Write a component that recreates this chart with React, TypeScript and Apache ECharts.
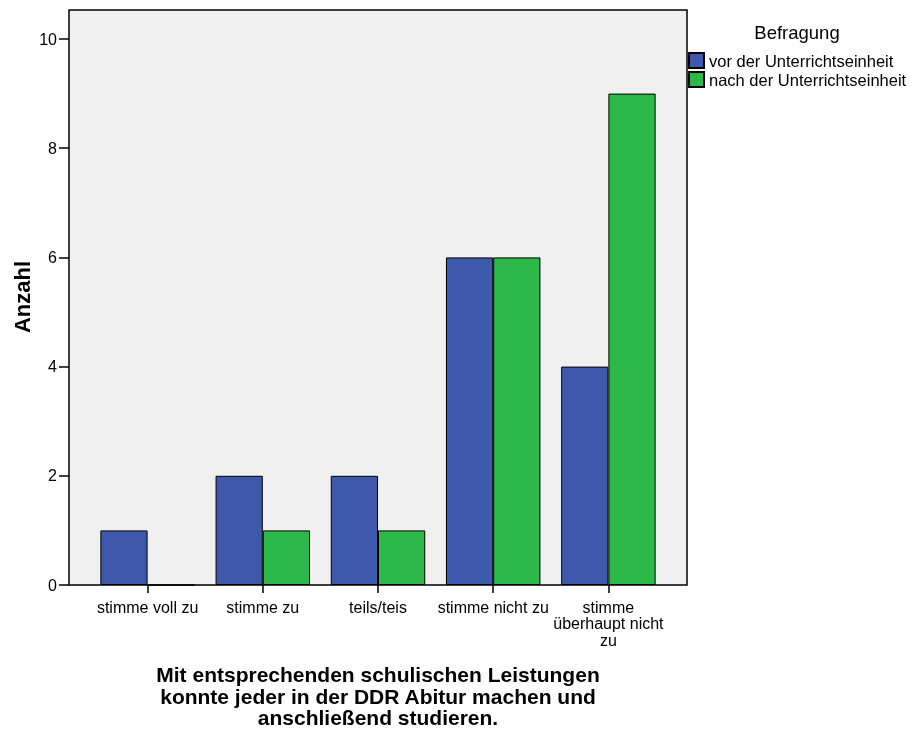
import React, { useEffect, useRef } from "react";
import * as echarts from "echarts";

const categories = ["stimme voll zu", "stimme zu", "teils/teis", "stimme nicht zu", "stimme\nüberhaupt nicht\nzu"];
const vorValues = [1, 2, 2, 6, 4];
const nachValues = [0, 1, 1, 6, 9];
const seriesNames = ["vor der Unterrichtseinheit", "nach der Unterrichtseinheit"];
const yTicks = [0, 2, 4, 6, 8, 10];
const legendTitle = "Befragung";
const yTitle = "Anzahl";
const xTitle = "Mit entsprechenden schulischen Leistungen\nkonnte jeder in der DDR Abitur machen und\nanschließend studieren.";

const FONT = "Liberation Sans, Arial, sans-serif";

export default function App() {
  const ref = useRef<HTMLDivElement>(null);
  useEffect(() => {
    if (!ref.current) return;
    const chart = echarts.init(ref.current, undefined, { renderer: "svg" });
    chart.setOption({
      animation: false,
      textStyle: { fontFamily: FONT },
      grid: { left: 90, right: 911 - 666, top: 39, bottom: 731 - 585 },
      xAxis: {
        type: "category",
        data: categories,
        axisLine: { show: false },
        axisTick: { show: true, alignWithLabel: true, length: 8, lineStyle: { color: "#000", width: 1.5 } },
        axisLabel: { color: "#000", fontSize: 16, margin: 14, lineHeight: 16.5, fontFamily: FONT, interval: 0 },
      },
      yAxis: {
        type: "value",
        min: 0,
        max: 10,
        interval: 2,
        offset: 21,
        splitLine: { show: false },
        axisLine: { show: false },
        axisTick: { show: true, length: 10, lineStyle: { color: "#000", width: 1.5 } },
        axisLabel: {
          color: "#000",
          fontSize: 16,
          margin: 12,
          fontFamily: FONT,
          formatter: (v: number) => (yTicks.includes(v) ? String(v) : ""),
        },
      },
      legend: {
        orient: "vertical",
        left: 688,
        top: 52,
        padding: 0,
        itemWidth: 15,
        itemHeight: 15,
        itemGap: 2,
        icon: "rect",
        textStyle: { color: "#000", fontSize: 16.5, fontFamily: FONT, lineHeight: 15 },
        data: seriesNames,
      },
      graphic: [
        {
          type: "rect",
          z: -10,
          silent: true,
          shape: { x: 69, y: 10, width: 618, height: 575 },
          style: { fill: "#f0f0f0", stroke: "#000", lineWidth: 1.5 },
        },
        {
          type: "text",
          x: 797,
          y: 32,
          style: { text: legendTitle, fill: "#000", font: `18.5px ${FONT}`, align: "center", verticalAlign: "middle" },
        },
        {
          type: "text",
          x: 22,
          y: 297,
          rotation: Math.PI / 2,
          style: {
            text: yTitle,
            fill: "#000",
            font: `bold 22px ${FONT}`,
            align: "center",
            verticalAlign: "middle",
          },
        },
        {
          type: "text",
          x: 378,
          y: 664,
          style: {
            text: xTitle,
            fill: "#000",
            font: `bold 21px ${FONT}`,
            align: "center",
            verticalAlign: "top",
            lineHeight: 21.5,
          },
        },
      ],
      series: [
        {
          name: seriesNames[0],
          type: "bar",
          data: vorValues,
          barGap: "0%",
          barCategoryGap: "18%",
          itemStyle: { color: "#3e58ac", borderColor: "#000", borderWidth: 1 },
        },
        {
          name: seriesNames[1],
          type: "bar",
          data: nachValues,
          barGap: "0%",
          barCategoryGap: "18%",
          itemStyle: { color: "#2db84a", borderColor: "#000", borderWidth: 1 },
        },
      ],
    });
    return () => chart.dispose();
  }, []);
  return <div ref={ref} style={{ position: "fixed", left: 0, top: 0, width: 911, height: 731 }} />;
}
